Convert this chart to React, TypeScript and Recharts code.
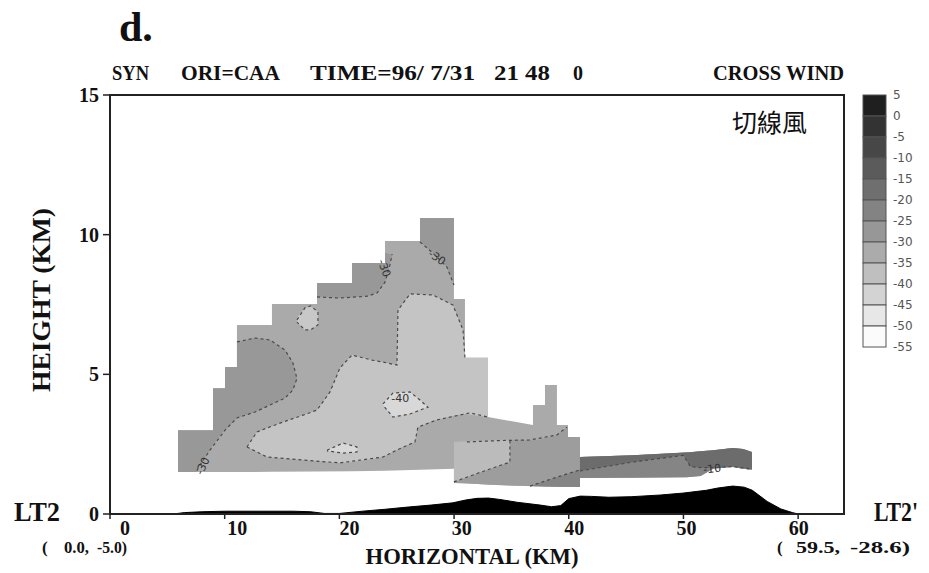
import React from 'react';
import { ComposedChart, Area, Line, Scatter, XAxis, YAxis } from 'recharts';

const W = 929;
const H = 573;

const xTicks = [0, 10, 20, 30, 40, 50, 60];
const yTicks = [0, 5, 10, 15];
const legendLabels = ['5', '0', '-5', '-10', '-15', '-20', '-25', '-30', '-35', '-40', '-45', '-50', '-55'];
const legendColors = ['#1f1f1f', '#333333', '#474747', '#5b5b5b', '#6f6f6f', '#838383', '#979797', '#ababab', '#bfbfbf', '#d3d3d3', '#e7e7e7', '#fbfbfb'];

type R = [number, number, number];
type P = [number, number];

// terrain height (km) along the section
const terrain: P[] = [
  [0, 0], [5.5, 0], [6.5, 0.05], [8, 0.08], [10, 0.1], [13, 0.1], [16, 0.1], [17.5, 0.08], [18.7, 0.02], [20, 0.02],
  [22, 0.1], [24, 0.17], [26, 0.25], [28, 0.32], [29.9, 0.4], [31, 0.5], [32, 0.56], [33, 0.57], [34, 0.52], [35.5, 0.42],
  [37.5, 0.32], [38.5, 0.26], [39.3, 0.3], [40, 0.55], [41, 0.64], [42, 0.63], [43.5, 0.6], [45.5, 0.62], [48, 0.68],
  [50, 0.75], [52, 0.85], [53, 0.93], [54.3, 1.0], [55.3, 0.96], [56, 0.85], [57.3, 0.45], [58.5, 0.18], [59.5, 0.05],
  [60, 0], [64, 0],
];

// filled regions: [x, bottom, top] in km
const regionAll: R[] = [
  [5.93, 1.5, 3.0], [8.98, 1.5, 3.0], [8.98, 1.5, 4.5], [10.03, 1.5, 4.5], [10.03, 1.5, 5.26], [11.07, 1.5, 5.26],
  [11.07, 1.5, 6.77], [14.12, 1.51, 6.77], [14.12, 1.51, 7.52], [18.05, 1.52, 7.52], [18.05, 1.52, 8.27], [21.1, 1.53, 8.27],
  [21.1, 1.53, 8.99], [23.98, 1.55, 8.99], [23.98, 1.55, 9.77], [27.03, 1.58, 9.77], [27.03, 1.58, 10.6], [29.99, 1.62, 10.6],
  [29.99, 1.11, 7.7], [30.95, 1.11, 7.7], [30.95, 1.11, 5.59], [32.96, 1.05, 5.59], [32.96, 1.05, 3.47], [36.88, 0.99, 3.19],
  [36.88, 0.99, 3.9], [37.93, 0.98, 3.9], [37.93, 0.98, 4.62], [38.97, 0.98, 4.62], [38.97, 0.98, 3.19], [39.93, 0.97, 3.19],
  [39.93, 0.97, 2.76], [40.98, 0.97, 2.76], [40.98, 1.29, 2.04], [45.6, 1.3, 2.1], [50.3, 1.32, 2.2], [51.5, 1.36, 2.25],
  [52.6, 1.62, 2.28], [54.3, 1.68, 2.36], [55.2, 1.62, 2.33], [55.97, 1.58, 2.22],
];
const regionLeft: R[] = [
  [5.93, 1.5, 3.0], [7.5, 1.5, 3.0], [7.85, 1.75, 3.0], [8.72, 2.29, 3.0], [8.98, 2.47, 3.0], [8.98, 2.47, 4.5],
  [9.76, 2.9, 4.5], [10.03, 3.0, 4.5], [10.03, 3.0, 5.26], [11.07, 3.44, 5.26], [11.07, 3.44, 6.16], [12.64, 3.65, 6.3],
  [13.95, 3.9, 6.23], [15.26, 4.15, 5.87], [15.95, 4.44, 5.41], [16.3, 4.83, 4.87],
];
const regionTop: R[] = [
  [18.05, 7.77, 8.27], [20.0, 7.73, 8.27], [21.1, 7.75, 8.27], [21.1, 7.75, 8.99], [22.5, 7.8, 8.99], [23.3, 7.92, 8.99],
  [23.98, 8.3, 8.99], [23.98, 8.3, 9.35], [24.4, 8.9, 9.3], [24.6, 9.28, 9.3],
];
const regionTopRight: R[] = [
  [27.03, 9.74, 10.6], [28.16, 9.34, 10.6], [29.38, 8.84, 10.6], [29.8, 8.4, 10.6], [29.99, 8.2, 10.6],
];
const regionCore: R[] = [
  [11.94, 2.4, 2.4], [12.82, 2.22, 2.94], [13.69, 2.04, 3.08], [15.08, 1.99, 3.29], [16.83, 1.93, 3.54], [18.05, 1.9, 3.72],
  [19.18, 1.86, 4.37], [20.05, 1.83, 5.23], [21.1, 1.86, 5.69], [22.84, 1.97, 5.51], [23.8, 2.04, 5.44], [25.02, 2.29, 5.33],
  [25.11, 2.33, 7.3], [26.16, 2.51, 7.88], [26.59, 2.58, 7.88], [26.85, 3.11, 7.88], [28.16, 3.33, 7.84], [28.51, 3.37, 7.77],
  [29.9, 3.51, 7.48], [30.78, 3.58, 6.59], [30.95, 3.58, 5.59], [32.96, 3.47, 5.59],
];
const islandA: R[] = [[23.8, 3.9, 3.98], [24.67, 3.47, 4.33], [26.16, 3.58, 4.37], [27.03, 3.72, 4.08], [27.72, 3.81, 3.83]];
const islandB: R[] = [[18.92, 2.26, 2.29], [20.31, 2.18, 2.54], [21.53, 2.22, 2.4]];
const islandC: R[] = [[16.3, 6.87, 7.02], [17.0, 6.59, 7.38], [17.5, 6.59, 7.45], [18.13, 6.77, 7.23]];
const regionLow: R[] = [
  [29.99, 1.11, 1.15], [32.0, 1.07, 1.45], [34.87, 1.02, 1.86], [34.87, 1.02, 2.65], [36.62, 1.0, 2.65], [37.5, 1.0, 2.67],
  [38.97, 0.98, 2.83], [39.84, 0.97, 3.11], [39.93, 0.97, 3.15], [39.93, 0.97, 2.76], [40.98, 0.97, 2.76],
];
const regionBox: R[] = [[29.99, 1.15, 2.58], [32.0, 1.45, 2.62], [34.87, 1.86, 2.65]];
const regionBand: R[] = [
  [36.62, 0.99, 1.0], [38.97, 0.98, 1.32], [40.98, 0.97, 1.58], [40.98, 1.29, 2.04], [45.6, 1.3, 2.1], [50.3, 1.32, 2.2],
  [51.5, 1.36, 2.25], [52.6, 1.62, 2.28], [54.3, 1.68, 2.36], [55.2, 1.62, 2.33], [55.97, 1.58, 2.22],
];
const regionBandDark: R[] = [
  [40.98, 1.54, 2.04], [45.6, 1.86, 2.1], [50.0, 2.1, 2.2], [50.6, 1.7, 2.21], [51.5, 1.66, 2.25], [52.6, 1.66, 2.28],
  [54.3, 1.7, 2.36], [55.2, 1.65, 2.33], [55.97, 1.6, 2.22],
];

const regions: { key: string; color: string; pts: R[] }[] = [
  { key: 'all', color: '#aaaaaa', pts: regionAll },
  { key: 'left', color: '#989898', pts: regionLeft },
  { key: 'top', color: '#989898', pts: regionTop },
  { key: 'topright', color: '#989898', pts: regionTopRight },
  { key: 'core', color: '#c4c4c4', pts: regionCore },
  { key: 'islA', color: '#d8d8d8', pts: islandA },
  { key: 'islB', color: '#d8d8d8', pts: islandB },
  { key: 'islC', color: '#c8c8c8', pts: islandC },
  { key: 'low', color: '#9d9d9d', pts: regionLow },
  { key: 'box', color: '#bbbbbb', pts: regionBox },
  { key: 'band', color: '#858585', pts: regionBand },
  { key: 'bandDark', color: '#6c6c6c', pts: regionBandDark },
];

// dashed contour lines
const contours: P[][] = [
  [[11.94, 2.4], [12.82, 2.94], [13.69, 3.08], [15.08, 3.29], [16.83, 3.54], [18.05, 3.72], [19.18, 4.37], [20.05, 5.23],
    [21.1, 5.69], [22.84, 5.51], [23.8, 5.44], [25.02, 5.33], [25.11, 7.3], [26.16, 7.88], [28.16, 7.84], [29.9, 7.48],
    [30.78, 6.59], [30.95, 5.59]],
  [[11.94, 2.4], [13.69, 2.04], [16.83, 1.93], [20.05, 1.83], [23.8, 2.04], [25.02, 2.29], [26.59, 2.58], [26.85, 3.11],
    [28.51, 3.37], [31.39, 3.62], [32.96, 3.47]],
  [[11.07, 6.16], [12.64, 6.3], [13.95, 6.23], [15.26, 5.87], [15.95, 5.41], [16.3, 4.85], [15.95, 4.44], [15.26, 4.15],
    [13.95, 3.9], [12.64, 3.65], [11.07, 3.44], [10.03, 3.0], [8.72, 2.29], [7.85, 1.75], [7.5, 1.5]],
  [[18.05, 7.77], [20.0, 7.73], [22.5, 7.8], [23.3, 7.92], [23.98, 8.3], [24.4, 8.9], [24.6, 9.3]],
  [[27.03, 9.74], [28.16, 9.34], [29.38, 8.84], [29.8, 8.4], [29.99, 8.2]],
  [[23.8, 3.94], [24.67, 4.33], [26.16, 4.37], [27.03, 4.08], [27.72, 3.82], [27.03, 3.72], [26.16, 3.58], [24.67, 3.47], [23.8, 3.9]],
  [[18.92, 2.28], [20.31, 2.54], [21.53, 2.4], [21.53, 2.22], [20.31, 2.18], [18.92, 2.26]],
  [[16.3, 6.95], [17.0, 7.38], [17.5, 7.45], [18.13, 7.23], [18.13, 6.77], [17.5, 6.59], [17.0, 6.59], [16.3, 6.87]],
  [[31.12, 2.58], [34.0, 2.63], [36.62, 2.65], [38.97, 2.83], [39.84, 3.11]],
  [[29.99, 1.15], [32.0, 1.45], [34.87, 1.86], [34.87, 2.63]],
  [[36.62, 1.0], [38.97, 1.32], [40.98, 1.58]],
  [[40.98, 1.54], [45.6, 1.86], [50.0, 2.1], [50.6, 1.7], [51.5, 1.66], [52.6, 1.66], [54.3, 1.7], [55.2, 1.65], [55.97, 1.6]],
];

const contourLabels = [
  { x: 28.5, y: 9.17, t: '-30', rot: 35 },
  { x: 23.9, y: 8.8, t: '-30', rot: 70 },
  { x: 25.3, y: 4.15, t: '-40', rot: 0 },
  { x: 8.1, y: 1.72, t: '-30', rot: -65 },
  { x: 52.5, y: 1.61, t: '-10', rot: -5 },
];

const serif = 'Liberation Serif, DejaVu Serif, serif';

const XTick = (props: any) => {
  const { x, y, payload } = props;
  const v = payload.value as number;
  return (
    <text x={x + 15 - 0.24 * v} y={y + 14} textAnchor="middle" fontSize={20} fontFamily={serif} fontWeight="bold" fill="#111">
      {v}
    </text>
  );
};

const LabelShape = (props: any) => {
  const { cx, cy, payload } = props;
  return (
    <text x={cx} y={cy} textAnchor="middle" dominantBaseline="central" fontSize={11} fontFamily="DejaVu Sans, sans-serif"
      fill="#333" transform={`rotate(${payload.rot} ${cx} ${cy})`}>
      {payload.t}
    </text>
  );
};

export default function App() {
  const hdr = { fontFamily: serif, fontWeight: 'bold' as const, fontSize: 20, fill: '#111' };
  const sm = { fontFamily: serif, fontWeight: 'bold' as const, fontSize: 17, fill: '#111' };
  return (
    <div style={{ position: 'absolute', left: 0, top: 0, width: W, height: H, background: '#fff' }}>
      <ComposedChart width={W} height={H} margin={{ top: 95, right: 85, bottom: 29, left: 60 }}>
        <XAxis dataKey="x" type="number" domain={[0, 64]} ticks={xTicks} allowDataOverflow height={30}
          tick={<XTick />} tickSize={5} tickLine={{ stroke: '#222', strokeWidth: 1.5 }} axisLine={{ stroke: '#222', strokeWidth: 2 }} />
        <YAxis type="number" domain={[0, 15]} ticks={yTicks} allowDataOverflow width={50} tickSize={7} tickMargin={4}
          tick={{ fontSize: 20, fontFamily: serif, fontWeight: 'bold', fill: '#111' }}
          tickLine={{ stroke: '#222', strokeWidth: 1.5 }} axisLine={{ stroke: '#222', strokeWidth: 2 }} />
        {regions.map((r) => (
          <Area key={r.key} data={r.pts.map(([x, lo, hi]) => ({ x, r: [lo, hi] }))} dataKey="r" type="linear"
            fill={r.color} fillOpacity={1} stroke="none" isAnimationActive={false} dot={false} activeDot={false} legendType="none" />
        ))}
        {contours.map((c, i) => (
          <Line key={'c' + i} data={c.map(([x, y]) => ({ x, y }))} dataKey="y" type="linear" stroke="#4a4a4a"
            strokeWidth={1.2} strokeDasharray="3 3" dot={false} activeDot={false} isAnimationActive={false} legendType="none" />
        ))}
        <Area data={terrain.map(([x, h]) => ({ x, r: [0, h] }))} dataKey="r" type="linear" fill="#000" fillOpacity={1}
          stroke="#000" strokeWidth={1} isAnimationActive={false} dot={false} activeDot={false} legendType="none" />
        <Scatter data={contourLabels} dataKey="y" shape={<LabelShape />} isAnimationActive={false} legendType="none" />
      </ComposedChart>
      <div style={{ position: 'absolute', left: 109, top: 94, width: 736, height: 421, border: '2px solid #222', boxSizing: 'border-box', pointerEvents: 'none' }} />
      <svg width={W} height={H} style={{ position: 'absolute', left: 0, top: 0, pointerEvents: 'none' }}>
        <text x={119} y={41} fontFamily={serif} fontWeight="bold" fontSize={42} fill="#111">d.</text>
        <text x={112} y={80} {...hdr} textLength={37} lengthAdjust="spacingAndGlyphs">SYN</text>
        <text x={181} y={80} {...hdr} textLength={99} lengthAdjust="spacingAndGlyphs">ORI=CAA</text>
        <text x={310} y={80} {...hdr} textLength={165} lengthAdjust="spacingAndGlyphs">TIME=96/ 7/31</text>
        <text x={494} y={80} {...hdr} textLength={56} lengthAdjust="spacingAndGlyphs">21 48</text>
        <text x={573} y={80} {...hdr}>0</text>
        <text x={713} y={80} {...hdr} textLength={131} lengthAdjust="spacingAndGlyphs">CROSS WIND</text>
        <text x={732} y={132} fontFamily="Noto Sans CJK TC, Noto Sans CJK SC, sans-serif" fontSize={25} fill="#111">切線風</text>
        <text transform="translate(50 300) rotate(-90)" textAnchor="middle" fontFamily={serif} fontWeight="bold" fontSize={26}
          fill="#111" textLength={184} lengthAdjust="spacingAndGlyphs">HEIGHT (KM)</text>
        <text x={472} y={564} textAnchor="middle" fontFamily={serif} fontWeight="bold" fontSize={24} fill="#111"
          textLength={213} lengthAdjust="spacingAndGlyphs">HORIZONTAL (KM)</text>
        <text x={42} y={553} {...sm}>(</text>
        <text x={64} y={553} {...sm} textLength={25} lengthAdjust="spacingAndGlyphs">0.0,</text>
        <text x={97} y={553} {...sm} textLength={30} lengthAdjust="spacingAndGlyphs">-5.0)</text>
        <text x={777} y={553} {...sm}>(</text>
        <text x={796} y={553} {...sm} textLength={44} lengthAdjust="spacingAndGlyphs">59.5,</text>
        <text x={850} y={553} {...sm} textLength={60} lengthAdjust="spacingAndGlyphs">-28.6)</text>
        <text x={14} y={521} fontFamily={serif} fontWeight="bold" fontSize={27} fill="#111" textLength={46} lengthAdjust="spacingAndGlyphs">LT2</text>
        <text x={874} y={521} fontFamily={serif} fontWeight="bold" fontSize={27} fill="#111" textLength={44} lengthAdjust="spacingAndGlyphs">LT2'</text>
        {legendColors.map((c, i) => (
          <rect key={'lc' + i} x={863} y={95 + 21 * i} width={23} height={21} fill={c} stroke="#555" strokeWidth={1} />
        ))}
        {legendLabels.map((l, i) => (
          <text key={'ll' + i} x={893} y={95 + 21 * i + 4} fontFamily="DejaVu Sans, sans-serif" fontSize={12} fill="#555">{l}</text>
        ))}
      </svg>
    </div>
  );
}
